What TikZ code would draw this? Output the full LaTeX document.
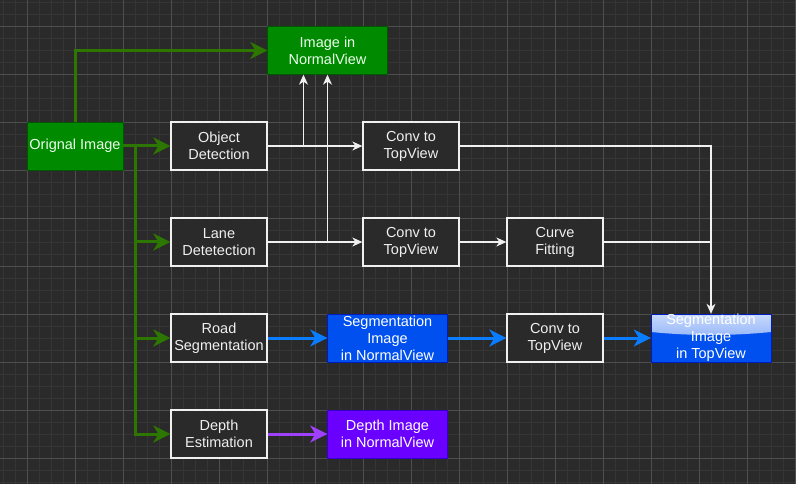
\documentclass[tikz,border=0pt]{standalone}
\usepackage{fontspec}
\setmainfont{Liberation Sans}
\usetikzlibrary{arrows.meta}

\definecolor{canvasbg}{HTML}{2A2A2A}
\definecolor{gridminor}{HTML}{353535}
\definecolor{gridmajor}{HTML}{4E4E4E}
\definecolor{boxline}{HTML}{F0F0F0}
\definecolor{greenfill}{HTML}{008A00}
\definecolor{greenedge}{HTML}{005700}
\definecolor{greenflow}{HTML}{2D7600}
\definecolor{bluefill}{HTML}{0050EF}
\definecolor{blueedge}{HTML}{001DBC}
\definecolor{blueflow}{HTML}{0A7CFF}
\definecolor{purplefill}{HTML}{6A00FF}
\definecolor{purpleedge}{HTML}{3700CC}
\definecolor{purpleflow}{HTML}{A040FF}

\begin{document}
\begin{tikzpicture}[x=1pt,y=-1pt,
  every node/.style={font=\fontsize{14.5}{17}\selectfont, align=center, inner sep=0pt},
  procbox/.style={draw=boxline, line width=1.3pt, fill=canvasbg, text=boxline,
    minimum width=96pt, minimum height=48pt},
  greenbox/.style={draw=greenedge, fill=greenfill, text=white!92!green,
    minimum width=96pt, minimum height=48pt},
  imgbox/.style={minimum width=120pt, minimum height=48pt, text=white},
  thickflow/.style={line width=3pt, -{Stealth[length=17pt,width=17pt,inset=5pt]}},
  thinflow/.style={draw=boxline, line width=1.2pt, -{Stealth[length=10pt,width=9pt,inset=3pt]}}]
\useasboundingbox (0,0) rectangle (796,484);
\fill[canvasbg] (0,0) rectangle (796,484);
% background grid
\foreach \gx in {3,15,...,795} \draw[gridminor, line width=0.8pt] (\gx,0) -- (\gx,484);
\foreach \gy in {2,14,...,482} \draw[gridminor, line width=0.8pt] (0,\gy) -- (796,\gy);
\foreach \gx in {27,75,...,795} \draw[gridmajor, line width=0.9pt] (\gx,0) -- (\gx,484);
\foreach \gy in {26,74,...,482} \draw[gridmajor, line width=0.9pt] (0,\gy) -- (796,\gy);

% boxes
\node[greenbox] (orig) at (75,146) {Orignal Image};
\node[imgbox, fill=greenfill, draw=greenedge, text=white!92!green] (imgnv) at (327.5,50.5) {Image in\\NormalView};
\node[procbox] (objdet) at (219,146) {Object\\Detection};
\node[procbox] (conv1) at (411,146) {Conv to\\TopView};
\node[procbox] (lane) at (219,242) {Lane\\Detetection};
\node[procbox] (conv2) at (411,242) {Conv to\\TopView};
\node[procbox] (curve) at (555,242) {Curve\\Fitting};
\node[procbox] (road) at (219,338) {Road\\Segmentation};
\node[imgbox, fill=bluefill, draw=blueedge] (segnv) at (387.5,338) {Segmentation\\Image\\in NormalView};
\node[procbox] (conv3) at (555,338) {Conv to\\TopView};
\node[imgbox, fill=bluefill, draw=blueedge,
  path picture={\fill[top color=white!78!bluefill, bottom color=bluefill!62!white]
    (path picture bounding box.north west) -- (path picture bounding box.north east)
    -- ([yshift=6pt]path picture bounding box.east)
    .. controls ([xshift=-40pt,yshift=2pt]path picture bounding box.east)
    and ([xshift=40pt,yshift=2pt]path picture bounding box.west)
    .. ([yshift=6pt]path picture bounding box.west) -- cycle;}] (segtv) at (711,338) {Segmentation\\Image\\in TopView};
\node[procbox] (depth) at (219,434) {Depth\\Estimation};
\node[imgbox, fill=purplefill, draw=purpleedge] (depthnv) at (387.5,434) {Depth Image\\in NormalView};

% green fan-out from the source image
\coordinate (split) at ([xshift=12pt]orig.east);
\draw[thickflow, greenflow] (orig.north) |- (imgnv.west);
\draw[thickflow, greenflow] (orig.east) -- (objdet.west);
\draw[thickflow, greenflow] (split) |- (lane.west);
\draw[thickflow, greenflow] (split) |- (road.west);
\draw[thickflow, greenflow] (split) |- (depth.west);

% white processing links
\draw[thinflow] (objdet.east) -- (conv1.west);
\draw[thinflow] (objdet.east) -| ([xshift=-24pt]imgnv.south);
\draw[thinflow] (lane.east) -| (imgnv.south);
\draw[thinflow] (lane.east) -- (conv2.west);
\draw[thinflow] (conv2.east) -- (curve.west);
\draw[thinflow] (conv1.east) -| (segtv.north);
\draw[boxline, line width=1.2pt] (curve.east) -- (curve.east -| segtv.north);

% segmentation and depth
\draw[thickflow, blueflow] (road.east) -- (segnv.west);
\draw[thickflow, blueflow] (segnv.east) -- (conv3.west);
\draw[thickflow, blueflow] (conv3.east) -- (segtv.west);
\draw[thickflow, purpleflow] (depth.east) -- (depthnv.west);
\end{tikzpicture}
\end{document}
